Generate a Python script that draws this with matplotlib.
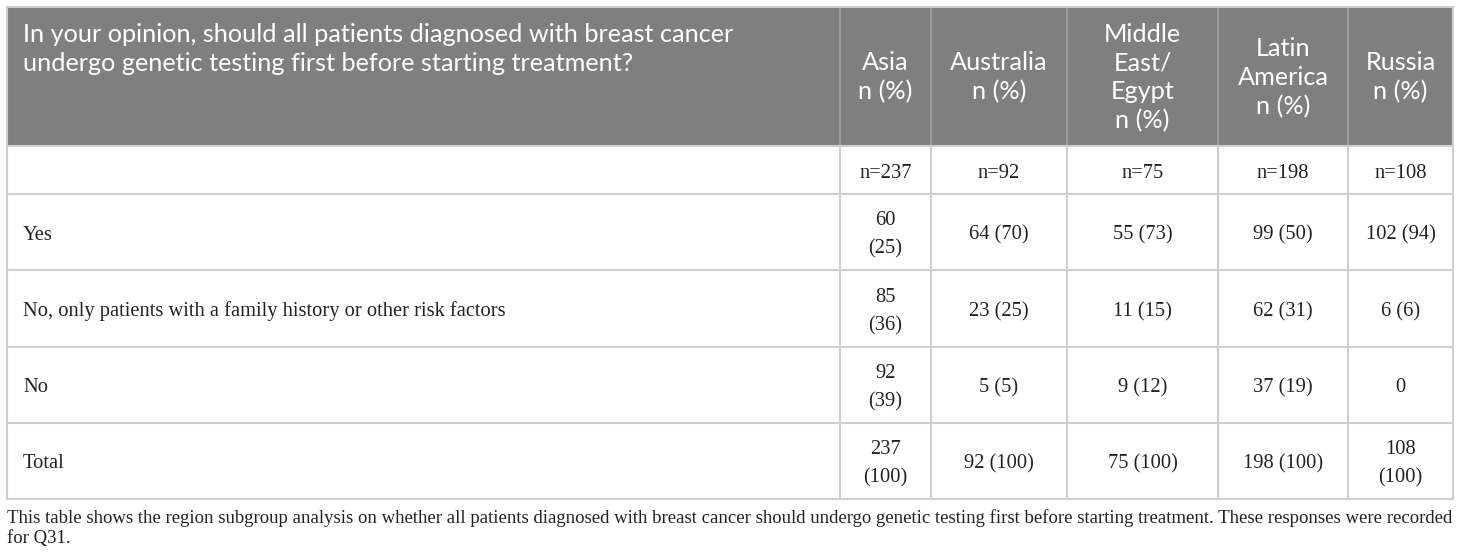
import matplotlib
matplotlib.use("Agg")
import matplotlib.pyplot as plt
from matplotlib.patches import Rectangle

# ---- data ----
question_lines = ["In your opinion, should all patients diagnosed with breast cancer",
                  "undergo genetic testing first before starting treatment?"]
regions = ["Asia\nn (%)", "Australia\nn (%)", "Middle\nEast/\nEgypt\nn (%)",
           "Latin\nAmerica\nn (%)", "Russia\nn (%)"]
sample_sizes = ["n=237", "n=92", "n=75", "n=198", "n=108"]
row_labels = ["", "Yes", "No, only patients with a family history or other risk factors",
              "No", "Total"]
yes_vals = ["60\n(25)", "64 (70)", "55 (73)", "99 (50)", "102 (94)"]
only_risk_vals = ["85\n(36)", "23 (25)", "11 (15)", "62 (31)", "6 (6)"]
no_vals = ["92\n(39)", "5 (5)", "9 (12)", "37 (19)", "0"]
total_vals = ["237\n(100)", "92 (100)", "75 (100)", "198 (100)", "108\n(100)"]
caption = ("This table shows the region subgroup analysis on whether all patients diagnosed with "
           "breast cancer should undergo genetic testing first before starting treatment. "
           "These responses were recorded\nfor Q31.")

body = [sample_sizes, yes_vals, only_risk_vals, no_vals, total_vals]

# ---- layout (pixel coordinates) ----
W, H = 1460, 559
col_edges = [7, 840, 931, 1067, 1218, 1348, 1453]
row_edges = [7, 146, 194, 270, 347, 423, 499]
header_bg = "#7f7f7f"
grid_col = "#cfcfcf"
header_sep = "#a3a3a3"
text_col = "#222222"

fig = plt.figure(figsize=(W / 100, H / 100), dpi=100)
ax = fig.add_axes([0, 0, 1, 1])
ax.set_xlim(0, W)
ax.set_ylim(H, 0)
ax.axis("off")

sans = ["Lato", "DejaVu Sans"]
serif = ["Liberation Serif", "DejaVu Serif"]
hsize = 18.2
bsize = 14.8

# header background
ax.add_patch(Rectangle((col_edges[0], row_edges[0]), col_edges[-1] - col_edges[0],
                       row_edges[1] - row_edges[0], facecolor=header_bg, edgecolor="none"))

# header texts
for k, line in enumerate(question_lines):
    ax.text(23, 35 + 28.5 * k, line, family=sans, fontsize=hsize, color="white",
            ha="left", va="center")
for j, lab in enumerate(regions):
    xc = (col_edges[j + 1] + col_edges[j + 2]) / 2
    yc = (row_edges[0] + row_edges[1]) / 2 + 1
    ax.text(xc, yc, lab, family=sans, fontsize=hsize, color="white",
            ha="center", va="center", multialignment="center", linespacing=1.3)

# header separators
for x in col_edges[1:-1]:
    ax.plot([x, x], [row_edges[0], row_edges[1]], color=header_sep, lw=1.2)

# body texts
for i, vals in enumerate(body):
    y0, y1 = row_edges[i + 1], row_edges[i + 2]
    yc = (y0 + y1) / 2 + 3
    ax.text(23, yc, row_labels[i], family=serif, fontsize=bsize, color=text_col,
            ha="left", va="center")
    for j, v in enumerate(vals):
        xc = (col_edges[j + 1] + col_edges[j + 2]) / 2
        ax.text(xc, yc, v, family=serif, fontsize=bsize, color=text_col,
                ha="center", va="center", multialignment="center", linespacing=1.64)

# grid lines in body
for y in row_edges[1:]:
    ax.plot([col_edges[0], col_edges[-1]], [y, y], color=grid_col, lw=1.5)
for x in col_edges:
    ax.plot([x, x], [row_edges[1], row_edges[-1]], color=grid_col, lw=1.5)
# outer header border
ax.plot([col_edges[0], col_edges[-1]], [row_edges[0], row_edges[0]], color=grid_col, lw=1.5)
ax.plot([col_edges[0], col_edges[0]], [row_edges[0], row_edges[1]], color=grid_col, lw=1.5)
ax.plot([col_edges[-1], col_edges[-1]], [row_edges[0], row_edges[1]], color=grid_col, lw=1.5)

# caption
ax.text(7, 509, caption, family=serif, fontsize=13.5, color=text_col,
        ha="left", va="top", linespacing=1.24)

fig.savefig("out.png", dpi=100)
